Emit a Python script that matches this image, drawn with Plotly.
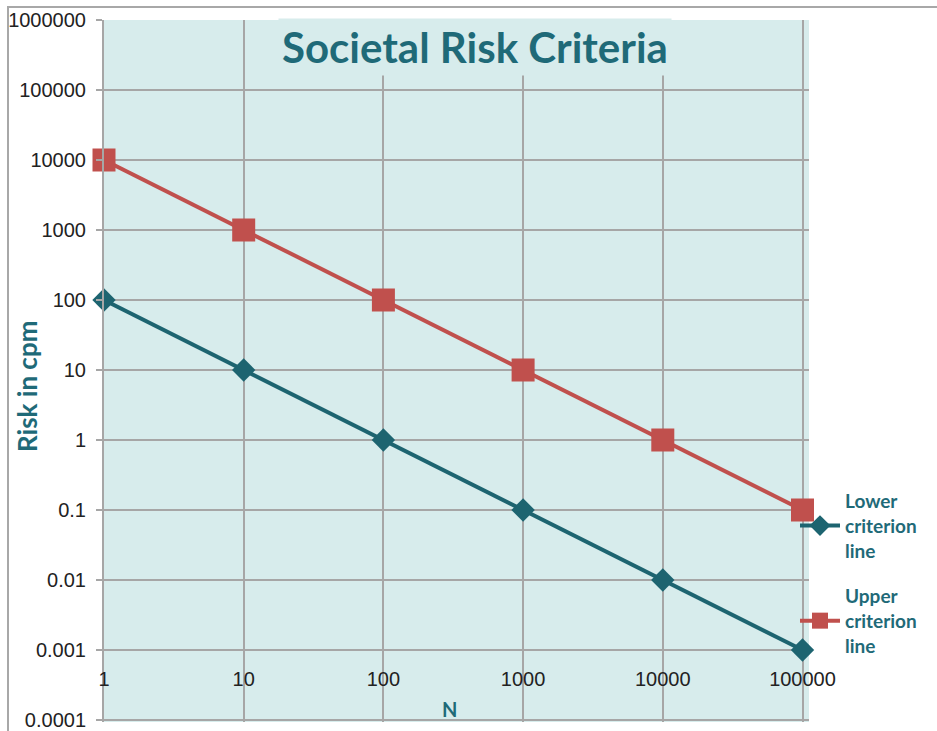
import plotly.graph_objects as go
import math

# ---- data ----
n_values = [1, 10, 100, 1000, 10000, 100000]
lower_risk = [100, 10, 1, 0.1, 0.01, 0.001]
upper_risk = [10000, 1000, 100, 10, 1, 0.1]
y_tick_vals = [0.0001, 0.001, 0.01, 0.1, 1, 10, 100, 1000, 10000, 100000, 1000000]
y_tick_text = ["0.0001", "0.001", "0.01", "0.1", "1", "10", "100", "1000", "10000", "100000", "1000000"]
x_tick_vals = [1, 10, 100, 1000, 10000, 100000]
x_tick_text = ["1", "10", "100", "1000", "10000", "100000"]

W, H = 937, 731
L, R, T, B = 104, 809, 20, 722  # plot area in px

def px_x(px):
    return (px - L) / (R - L)

def px_y(py):
    return (B - py) / (B - T)

TEAL = "#1d6470"
TEXT_TEAL = "#1f6a78"
RED = "#c0504d"
BG = "#d7ecec"
GRID = "#a6a6a6"

fig = go.Figure()
fig.add_trace(go.Scatter(
    x=n_values, y=lower_risk, mode="lines+markers",
    name="<b>Lower<br>criterion<br>line</b>", legendgroup="lower",
    line=dict(color=TEAL, width=4),
    marker=dict(symbol="diamond", size=18, color=TEAL),
    cliponaxis=False,
))
fig.add_trace(go.Scatter(
    x=n_values, y=upper_risk, mode="lines+markers",
    name="<b>Upper<br>criterion<br>line</b>", legendgroup="upper",
    line=dict(color=RED, width=4),
    marker=dict(symbol="square", size=23, color=RED),
    cliponaxis=False,
))

fig.update_layout(
    width=W, height=H,
    margin=dict(l=L, r=W - R, t=T, b=H - B, autoexpand=False),
    paper_bgcolor="white",
    plot_bgcolor=BG,
    showlegend=True,
    legend=dict(
        x=px_x(795), y=px_y(482), xanchor="left", yanchor="top",
        font=dict(family="Lato", size=19, color=TEXT_TEAL),
        bgcolor="rgba(0,0,0,0)",
        tracegroupgap=18,
        itemwidth=40,
    ),
    xaxis=dict(
        type="log", range=[0, math.log10(100000) + (R - 802.5) / 139.7],
        tickvals=x_tick_vals, ticktext=x_tick_text,
        showgrid=True, gridcolor=GRID, gridwidth=2,
        showline=False, zeroline=False, ticks="",
        anchor="free", position=px_y(665), automargin=False,
        tickfont=dict(family="Liberation Sans", size=20, color="#222222"),
    ),
    yaxis=dict(
        type="log", range=[-4 - (B - 720) / 70.0, 6],
        tickvals=y_tick_vals, ticktext=y_tick_text,
        showgrid=True, gridcolor=GRID, gridwidth=2,
        showline=True, linecolor=GRID, linewidth=2,
        zeroline=False, ticks="outside", ticklen=6, tickcolor=GRID, tickwidth=2,
        ticklabelstandoff=6, automargin=False,
        tickfont=dict(family="Liberation Sans", size=20, color="#222222"),
    ),
)

# title with background box hiding gridlines
fig.add_annotation(
    text="<b>Societal Risk Criteria</b>", xref="paper", yref="paper",
    x=px_x(475), y=px_y(47), xanchor="center", yanchor="middle",
    showarrow=False, font=dict(family="Lato", size=42, color=TEXT_TEAL),
    bgcolor=BG, borderpad=3,
)
# axis titles
fig.add_annotation(
    text="<b>Risk in cpm</b>", xref="paper", yref="paper",
    x=px_x(27), y=px_y(387), xanchor="center", yanchor="middle",
    textangle=-90, showarrow=False,
    font=dict(family="Lato", size=26, color=TEXT_TEAL),
)
fig.add_annotation(
    text="<b>N</b>", xref="paper", yref="paper",
    x=px_x(449), y=px_y(709), xanchor="center", yanchor="middle",
    showarrow=False, font=dict(family="Lato", size=20, color=TEXT_TEAL),
)
# outer frame
fig.add_shape(
    type="rect", xref="paper", yref="paper",
    x0=px_x(8), x1=px_x(960), y0=px_y(7), y1=px_y(760),
    line=dict(color="#a8a8a8", width=2), fillcolor="rgba(0,0,0,0)", layer="below",
)

fig.write_html(
    "out.html",
    config={"displayModeBar": False},
    post_script="document.body.style.margin='0';document.body.style.overflow='hidden';",
)
